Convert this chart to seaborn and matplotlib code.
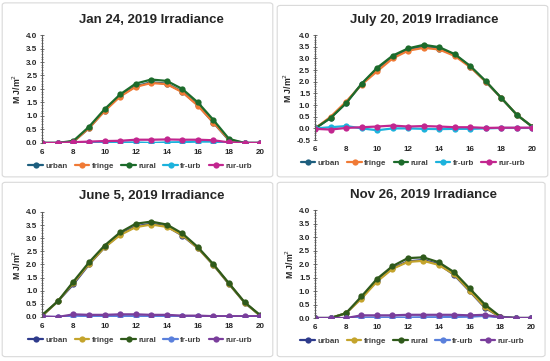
import numpy as np
import matplotlib.pyplot as plt
import seaborn as sns
import pandas as pd
from matplotlib.patches import FancyBboxPatch
from matplotlib.ticker import MultipleLocator

sns.set_theme(style='white')
plt.rcParams['font.family'] = ['Liberation Sans', 'DejaVu Sans']

hours = list(range(6, 21))
series_names = ['urban', 'fringe', 'rural', 'fr-urb', 'rur-urb']

# Jan 24
jan_urban = [0, 0, 0.05, 0.55, 1.2, 1.75, 2.1, 2.25, 2.2, 1.9, 1.4, 0.75, 0.1, 0, 0]
jan_fringe = [0, 0, 0.05, 0.55, 1.18, 1.72, 2.08, 2.22, 2.18, 1.88, 1.38, 0.75, 0.12, 0, 0]
jan_rural = [0, 0, 0.08, 0.6, 1.25, 1.8, 2.2, 2.35, 2.3, 2.0, 1.5, 0.85, 0.15, 0, 0]
jan_frurb = [0, 0, 0, 0.02, 0.02, 0.02, 0.02, 0.0, 0.02, 0.03, 0.05, 0.05, 0.0, 0, 0]
jan_rururb = [0, 0, 0.03, 0.05, 0.07, 0.08, 0.12, 0.12, 0.13, 0.12, 0.12, 0.1, 0.02, 0, 0]

# July 20
jul_urban = [0, 0.45, 1.1, 1.9, 2.55, 3.05, 3.38, 3.5, 3.42, 3.15, 2.65, 2.0, 1.3, 0.58, 0.07]
jul_fringe = [0, 0.5, 1.15, 1.88, 2.45, 3.0, 3.33, 3.45, 3.38, 3.1, 2.62, 2.0, 1.3, 0.58, 0.07]
jul_rural = [0, 0.45, 1.08, 1.92, 2.6, 3.12, 3.43, 3.58, 3.48, 3.18, 2.67, 2.02, 1.3, 0.58, 0.07]
jul_frurb = [0, 0.05, 0.1, 0.0, -0.08, 0.0, 0.0, -0.02, -0.03, -0.02, -0.02, 0.0, 0.02, 0.02, 0.02]
jul_rururb = [-0.02, -0.05, 0.02, 0.05, 0.08, 0.12, 0.08, 0.1, 0.08, 0.05, 0.05, 0.02, 0.03, 0.03, 0.03]

# June 5
jun_urban = [0.05, 0.6, 1.25, 2.0, 2.65, 3.15, 3.45, 3.55, 3.45, 3.1, 2.62, 1.98, 1.25, 0.55, 0.05]
jun_fringe = [0.05, 0.6, 1.3, 2.02, 2.65, 3.12, 3.42, 3.52, 3.43, 3.12, 2.62, 1.98, 1.26, 0.55, 0.05]
jun_rural = [0.08, 0.6, 1.35, 2.08, 2.72, 3.22, 3.55, 3.63, 3.52, 3.18, 2.66, 2.0, 1.28, 0.56, 0.07]
jun_frurb = [0.0, 0.0, 0.05, 0.03, 0.03, 0.03, 0.03, 0.02, 0.02, 0.02, 0.02, 0.01, 0.01, 0.01, 0.01]
jun_rururb = [0.02, 0.0, 0.1, 0.08, 0.08, 0.1, 0.1, 0.08, 0.08, 0.05, 0.05, 0.03, 0.03, 0.03, 0.03]

# Nov 26
nov_urban = [0, 0, 0.18, 0.75, 1.38, 1.85, 2.1, 2.15, 2.0, 1.6, 1.0, 0.38, 0.03, 0, 0]
nov_fringe = [0, 0, 0.18, 0.72, 1.35, 1.82, 2.08, 2.12, 1.97, 1.62, 1.02, 0.4, 0.03, 0, 0]
nov_rural = [0, 0, 0.18, 0.8, 1.45, 1.92, 2.22, 2.25, 2.07, 1.7, 1.1, 0.5, 0.05, 0, 0]
nov_frurb = [0, 0, 0, 0.02, 0.02, 0.02, 0.02, 0.03, 0.03, 0.04, 0.05, 0.08, 0.02, 0, 0]
nov_rururb = [0, 0, 0.0, 0.1, 0.1, 0.1, 0.12, 0.12, 0.12, 0.12, 0.1, 0.12, 0.03, 0, 0]

pal_a = ['#1d5e7e', '#f07a35', '#1c6b2b', '#1cb2dc', '#c2268f']
pal_b = ['#2e3b8c', '#c4a42c', '#2f5a1b', '#5a80dc', '#7a3e9c']

panels = [
    ('Jan 24, 2019 Irradiance', [jan_urban, jan_fringe, jan_rural, jan_frurb, jan_rururb],
     pal_a, (0.0, 4.0), [0.077, 0.604, 0.396, 0.299], (0.004, 0.51, 0.492, 0.482)),
    ('July 20, 2019 Irradiance', [jul_urban, jul_fringe, jul_rural, jul_frurb, jul_rururb],
     pal_a, (-0.5, 4.0), [0.573, 0.612, 0.395, 0.291], (0.504, 0.51, 0.492, 0.475)),
    ('June 5, 2019 Irradiance', [jun_urban, jun_fringe, jun_rural, jun_frurb, jun_rururb],
     pal_b, (0.0, 4.0), [0.077, 0.122, 0.396, 0.291], (0.004, 0.012, 0.492, 0.483)),
    ('Nov 26, 2019 Irradiance', [nov_urban, nov_fringe, nov_rural, nov_frurb, nov_rururb],
     pal_b, (0.0, 4.0), [0.573, 0.119, 0.393, 0.299], (0.504, 0.012, 0.487, 0.483)),
]

fig = plt.figure(figsize=(5.5, 3.61), dpi=100)

for title, values, pal, ylim, pos, box in panels:
    fig.patches.append(FancyBboxPatch((box[0], box[1]), box[2], box[3],
                                      boxstyle='round,pad=0,rounding_size=0.006',
                                      transform=fig.transFigure, facecolor='none',
                                      edgecolor='#d9d9d9', linewidth=0.8, zorder=-1))
    ax = fig.add_axes(pos)
    ax.patch.set_alpha(0)
    rows = []
    for name, vals in zip(series_names, values):
        for h, v in zip(hours, vals):
            rows.append({'hour': h, 'value': v, 'series': name})
    df = pd.DataFrame(rows)
    sns.lineplot(data=df, x='hour', y='value', hue='series', hue_order=series_names,
                 palette=pal, marker='o', markersize=4.5, markeredgewidth=0,
                 linewidth=1.6, ax=ax)
    ax.set_xlim(6, 20)
    ax.set_ylim(*ylim)
    ax.set_xticks(range(6, 21, 2))
    ax.yaxis.set_major_locator(MultipleLocator(0.5))
    ax.yaxis.set_minor_locator(MultipleLocator(0.1))
    ax.yaxis.set_major_formatter(plt.FormatStrFormatter('%.1f'))
    for s in ['top', 'right', 'bottom']:
        ax.spines[s].set_visible(False)
    ax.spines['left'].set_color('#595959')
    ax.spines['left'].set_linewidth(0.8)
    ax.tick_params(axis='y', which='major', direction='inout', length=3, width=0.6,
                   color='#595959', labelsize=5.8, pad=2, left=True)
    ax.tick_params(axis='y', which='minor', direction='inout', length=2, width=0.5,
                   color='#595959', left=True)
    ax.tick_params(axis='x', length=0, labelsize=5.8, pad=4)
    for lab in ax.get_xticklabels() + ax.get_yticklabels():
        lab.set_fontweight('bold')
        lab.set_color('#262626')
    ax.set_xlabel('')
    ax.set_ylabel('M J/m$^2$', fontsize=6.3, fontweight='bold', labelpad=2)
    ax.set_title(title, fontsize=9.5, fontweight='bold', pad=9, color='#262626')
    leg = ax.legend(loc='upper center', bbox_to_anchor=(0.45, -0.15), ncol=5,
                    frameon=False, fontsize=5.8, handlelength=1.8, columnspacing=0.9,
                    handletextpad=0.3, borderaxespad=0)
    for t in leg.get_texts():
        t.set_fontweight('bold')
        t.set_color('#404040')

fig.savefig('out.png', dpi=100)
